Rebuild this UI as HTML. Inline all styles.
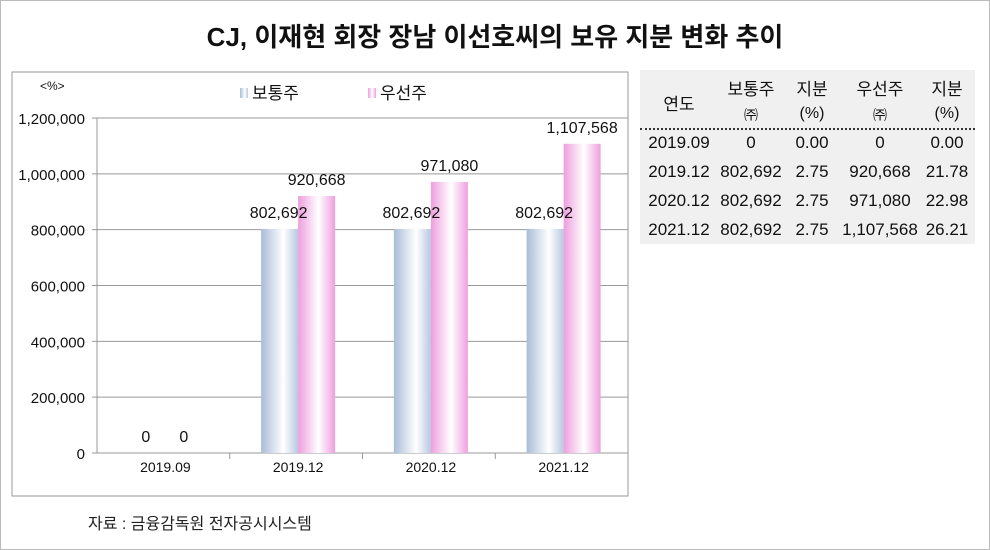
<!DOCTYPE html>
<html><head><meta charset="utf-8"><style>
body{margin:0;width:990px;height:550px;background:#fff;font-family:"Liberation Sans","Noto Sans CJK KR",sans-serif;position:relative;overflow:hidden}
#frame{position:absolute;left:0;top:0;width:988px;height:548px;border:1px solid #bbb}
#title{position:absolute;left:0;top:17px;width:990px;text-align:center;font-size:26px;font-weight:bold;color:#111}
#tbl{position:absolute;left:640px;top:70px;width:335px;height:174px;background:#f0f0f0;font-size:17px;color:#111}
#tbl div{position:absolute;text-align:center}
#src{position:absolute;left:88px;top:510px;font-size:16px;color:#222}
</style></head><body>
<div id="frame"></div>
<div id="title">CJ, 이재현 회장 장남 이선호씨의 보유 지분 변화 추이</div>
<svg id="chart" width="990" height="550" style="position:absolute;left:0;top:0">
<defs>
<linearGradient id="gb" x1="0" x2="1"><stop offset="0" stop-color="#a9bcd8"/><stop offset="0.6" stop-color="#ffffff"/><stop offset="1" stop-color="#b8c8e0"/></linearGradient>
<linearGradient id="gp" x1="0" x2="1"><stop offset="0" stop-color="#ee9ede"/><stop offset="0.55" stop-color="#ffffff"/><stop offset="1" stop-color="#ef9fdf"/></linearGradient>
</defs>
<rect x="12" y="72" width="616" height="424" fill="none" stroke="#999"/>
<g id="plot"></g>
</svg>
<div id="tbl"></div>
<div id="src">자료 : 금융감독원 전자공시시스템</div>
<script>
const categories=["2019.09","2019.12","2020.12","2021.12"];
const common=[0,802692,802692,802692];
const preferred=[0,920668,971080,1107568];
const yTicks=[0,200000,400000,600000,800000,1000000,1200000];
const commonPct=["0.00","2.75","2.75","2.75"];
const prefPct=["0.00","21.78","22.98","26.21"];
const fmt=v=>v.toLocaleString('en-US');
const X0=97,X1=628,Y0=453,Y1=118,YMAX=1200000;
const y=v=>Y0-(v/YMAX)*(Y0-Y1);
const band=(X1-X0)/categories.length;
const xc=i=>X0+band*(i+0.5)+2;
const g=document.getElementById('plot');const NS="http://www.w3.org/2000/svg";
function mk(t,a,txt){const e=document.createElementNS(NS,t);for(const k in a)e.setAttribute(k,a[k]);if(txt!==undefined)e.textContent=txt;g.appendChild(e);return e;}
yTicks.forEach(t=>{
 const l=mk('line',{x1:X0-5,x2:X1,y1:y(t),y2:y(t),stroke:'#999'});
 
 
 const tx=mk('text',{x:X0-12,y:y(t)+6,'text-anchor':'end','font-size':15,fill:'#111'},fmt(t));
 
 
});
mk('line',{x1:X0,x2:X0,y1:Y1,y2:Y0,stroke:'#999'});
categories.forEach((c,i)=>{
 mk('line',{x1:X0+band*(i+1),x2:X0+band*(i+1),y1:Y0,y2:Y0+6,stroke:'#999'});
 const t=mk('text',{x:xc(i),y:Y0+19,'text-anchor':'middle','font-size':14,fill:'#111'},c);
 
 
 const bw=37;
 const b1=mk('rect',{x:xc(i)-bw,y:y(common[i]),width:bw,height:Y0-y(common[i]),fill:'url(#gb)'});
 
 
 const b2=mk('rect',{x:xc(i),y:y(preferred[i]),width:bw,height:Y0-y(preferred[i]),fill:'url(#gp)'});
 
 
 const l1=mk('text',{x:xc(i)-bw/2-1,y:Math.min(y(common[i]),Y0)-11,'text-anchor':'middle','font-size':16,fill:'#111'},fmt(common[i]));
 
 
 const l2=mk('text',{x:xc(i)+bw/2,y:y(preferred[i])-11,'text-anchor':'middle','font-size':16,fill:'#111'},fmt(preferred[i]));
 
 
});
mk('text',{x:40,y:90,'font-size':12,fill:'#111'},'<%>');
const lg1=mk('rect',{x:240,y:88,width:8,height:10,fill:'url(#gb)'});

const lt1=mk('text',{x:252,y:99,'font-size':17,fill:'#111'},'보통주');


const lg2=mk('rect',{x:368,y:88,width:8,height:10,fill:'url(#gp)'});

const lt2=mk('text',{x:380,y:99,'font-size':17,fill:'#111'},'우선주');


const tb=document.getElementById('tbl');
const cols=[39,111,172,240,307];
function cell(txt,cx,cy,fs){const d=document.createElement('div');d.textContent=txt;d.style.left=(cx-60)+'px';d.style.width='120px';d.style.top=cy+'px';d.style.fontSize=(fs||17)+'px';
 
 
 tb.appendChild(d);}
cell('연도',cols[0],20);
cell('보통주',cols[1],5);cell('지분',cols[2],5);cell('우선주',cols[3],5);cell('지분',cols[4],5);
cell('㈜',cols[1],35,14);cell('(%)',cols[2],35,16);cell('㈜',cols[3],35,14);cell('(%)',cols[4],35,16);
const hr=document.createElement('div');hr.style.cssText='left:0;top:58px;width:335px;height:0;border-top:2px dotted #333';


tb.appendChild(hr);
categories.forEach((c,i)=>{const ty=63+i*29;
 cell(c,cols[0],ty);cell(fmt(common[i]),cols[1],ty);cell(commonPct[i],cols[2],ty);cell(fmt(preferred[i]),cols[3],ty);cell(prefPct[i],cols[4],ty);});
</script>
</body></html>
